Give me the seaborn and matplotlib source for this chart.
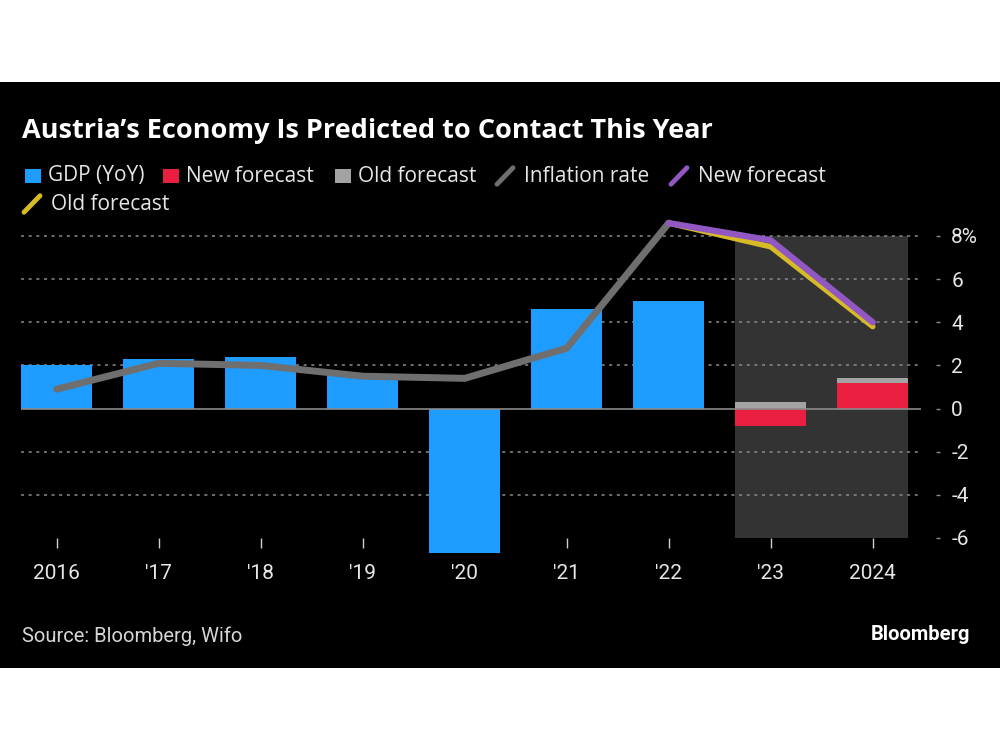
import numpy as np
import pandas as pd
import matplotlib
matplotlib.use("Agg")
import matplotlib.pyplot as plt
from matplotlib.patches import Rectangle
from matplotlib.lines import Line2D
import seaborn as sns

# 数据
years = ["2016", "'17", "'18", "'19", "'20", "'21", "'22", "'23", "2024"]
gdp_years = ["2016", "'17", "'18", "'19", "'20", "'21", "'22"]
gdp = [2.0, 2.3, 2.4, 1.5, -6.7, 4.6, 5.0]
fc_years = ["'23", "2024"]
gdp_new = [-0.8, 1.2]
gdp_old = [0.3, 1.4]
infl_years = ["2016", "'17", "'18", "'19", "'20", "'21", "'22"]
inflation = [0.9, 2.1, 2.0, 1.5, 1.4, 2.8, 8.6]
infl_fc_years = ["'22", "'23", "2024"]
infl_new = [8.6, 7.8, 4.0]
infl_old = [8.6, 7.5, 3.8]
yticks = [-6, -4, -2, 0, 2, 4, 6, 8]
ytick_labels = ["-6", "-4", "-2", "0", "2", "4", "6", "8%"]

# 颜色
c_blue = "#1f9cff"
c_red = "#ea1f40"
c_old = "#a3a3a3"
c_infl = "#6f6f6f"
c_purple = "#9157c2"
c_yellow = "#d7bb26"
c_text = "#e6e6e6"

sns.set_theme(style="dark")
plt.rcParams["font.family"] = ["Roboto", "DejaVu Sans"]

fig = plt.figure(figsize=(10, 7.5), dpi=100)
fig.patch.set_facecolor("white")
fig.patches.append(Rectangle((0, 0.1093), 1, 0.7814, transform=fig.transFigure,
                             facecolor="black", edgecolor="none", zorder=-10))

ax = fig.add_axes([0.021, 0.2827, 0.915, 0.4314])
ax.set_facecolor("none")

# 预测区阴影
ax.add_patch(Rectangle((6.65, -6), 1.7, 14, facecolor="#333333", edgecolor="none", zorder=0))

# 网格线
for yv in yticks:
    if yv == 0:
        ax.hlines(0, -0.35, 8.47, color="#8a8a8a", linewidth=1.2, zorder=3)
    elif yv > -6:
        ax.hlines(yv, -0.35, 8.47, color="#8a8a8a", linewidth=1.1,
                  linestyles=(0, (2, 3)), zorder=1)

# 柱状图
df_gdp = pd.DataFrame({"year": gdp_years, "value": gdp})
df_old = pd.DataFrame({"year": fc_years, "value": gdp_old})
df_new = pd.DataFrame({"year": fc_years, "value": gdp_new})
for d, col in [(df_gdp, c_blue), (df_old, c_old), (df_new, c_red)]:
    sns.barplot(data=d, x="year", y="value", order=years, color=col,
                saturation=1, width=0.7, ax=ax, zorder=2, linewidth=0, edgecolor="none")
for p in ax.patches:
    p.set_clip_on(False)

# 折线图
pos = {y: i for i, y in enumerate(years)}
sns.lineplot(x=[pos[y] for y in infl_years], y=inflation, color=c_infl,
             linewidth=5, ax=ax, zorder=4, solid_capstyle="round")
sns.lineplot(x=[pos[y] for y in infl_fc_years], y=infl_old, color=c_yellow,
             linewidth=4, ax=ax, zorder=5, solid_capstyle="round")
sns.lineplot(x=[pos[y] for y in infl_fc_years], y=infl_new, color=c_purple,
             linewidth=4.5, ax=ax, zorder=6, solid_capstyle="round")

ax.set_xlim(-0.35, 8.62)
ax.set_ylim(-6, 9)
ax.set_xlabel("")
ax.set_ylabel("")
for s in ax.spines.values():
    s.set_visible(False)
ax.grid(False)

ax.yaxis.tick_right()
ax.set_yticks(yticks)
ax.set_yticklabels(ytick_labels)
ax.tick_params(axis="y", colors="#8a8a8a", labelcolor=c_text, length=3,
               width=1, direction="out", pad=8, labelsize=15, right=True, left=False)
ax.set_xticks(range(len(years)))
ax.set_xticklabels(years)
ax.tick_params(axis="x", colors="#cfcfcf", labelcolor=c_text, length=7,
               width=1, direction="out", pad=12, labelsize=15, bottom=True)

# 标题
fig.text(0.022, 0.826, "Austria’s Economy Is Predicted to Contact This Year",
         color="white", fontsize=19.5, fontweight="bold",
         family=["Open Sans", "DejaVu Sans"], va="center")

# 图例
lg_font = dict(color=c_text, fontsize=15, family=["Open Sans", "DejaVu Sans"], va="center")
row1 = 1 - 176 / 750
row2 = 1 - 204 / 750
for x0, col, label in [(25, c_blue, "GDP (YoY)"), (163, c_red, "New forecast"),
                       (335, c_old, "Old forecast")]:
    fig.patches.append(Rectangle((x0 / 1000, row1 - 0.0095), 0.0155, 0.019,
                                 transform=fig.transFigure, facecolor=col, edgecolor="none"))
    fig.text((x0 + 23) / 1000, row1, label, **lg_font)
for x0, y0, col, label in [(497, row1, c_infl, "Inflation rate"),
                           (671, row1, c_purple, "New forecast"),
                           (24, row2, c_yellow, "Old forecast")]:
    fig.lines.append(Line2D([x0 / 1000, (x0 + 16) / 1000], [y0 - 0.011, y0 + 0.011],
                            transform=fig.transFigure, color=col, linewidth=3.5))
    fig.text((x0 + 27) / 1000, y0, label, **lg_font)

# 来源
fig.text(0.022, 1 - 636 / 750, "Source: Bloomberg, Wifo", color="#d6d6d6",
         fontsize=14.5, va="center")
fig.text(0.970, 1 - 634 / 750, "Bloomberg", color="white", fontsize=14.5,
         fontweight="bold", ha="right", va="center")

fig.savefig("out.png", dpi=100, facecolor=fig.get_facecolor())
